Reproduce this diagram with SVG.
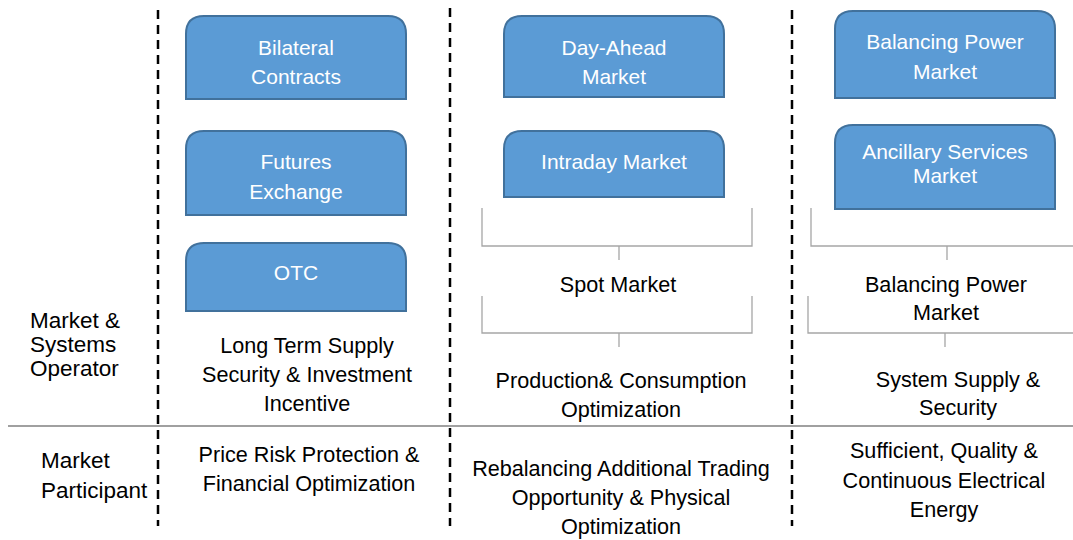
<svg xmlns="http://www.w3.org/2000/svg" width="1073" height="540" viewBox="0 0 1073 540">
<style>
.box{fill:#5B9BD5;stroke:#41719C;stroke-width:2}
.bt{fill:#fff;font-family:"Liberation Sans",Arial,sans-serif;font-size:21px;text-anchor:middle}
.t{fill:#000;font-family:"Liberation Sans",Arial,sans-serif;font-size:21.6px;text-anchor:middle}
.tl{fill:#000;font-family:"Liberation Sans",Arial,sans-serif;font-size:22.5px}
.dash{stroke:#000;stroke-width:2.5;stroke-dasharray:9 6;fill:none}
.br{stroke:#A6A6A6;stroke-width:1.3;fill:none}
</style>
<rect width="1073" height="540" fill="#fff"/>
<g id="connectors">
<line class="dash" x1="158" y1="10" x2="158" y2="526"/>
<line class="dash" x1="450" y1="8" x2="450" y2="526"/>
<line class="dash" x1="792" y1="10" x2="792" y2="526"/>
<line x1="8" y1="426" x2="1073" y2="426" stroke="#A0A0A0" stroke-width="2"/>
<path class="br" d="M482 208V246H752V208M619 246V260"/>
<path class="br" d="M482 296V333H752V296M619 333V347"/>
<path class="br" d="M811 208V246H1073M947 246V260"/>
<path class="br" d="M808 296V333H1073M945 333V347"/>
</g>
<g id="bilateral"><path class="box" d="M186 99V34Q186 16 204 16H388Q406 16 406 34V99Z"/><text class="bt" x="296" y="55">Bilateral</text><text class="bt" x="296" y="84">Contracts</text></g>
<g id="futures"><path class="box" d="M186 215V149Q186 131 204 131H388Q406 131 406 149V215Z"/><text class="bt" x="296" y="169">Futures</text><text class="bt" x="296" y="199">Exchange</text></g>
<g id="otc"><path class="box" d="M186 311V261Q186 243 204 243H388Q406 243 406 261V311Z"/><text class="bt" x="296" y="280">OTC</text></g>
<g id="dayahead"><path class="box" d="M504 97V34Q504 16 522 16H706Q724 16 724 34V97Z"/><text class="bt" x="614" y="55">Day-Ahead</text><text class="bt" x="614" y="84">Market</text></g>
<g id="intraday"><path class="box" d="M504 197V149Q504 131 522 131H706Q724 131 724 149V197Z"/><text class="bt" x="614" y="169">Intraday Market</text></g>
<g id="balancing"><path class="box" d="M835 98V29Q835 11 853 11H1037Q1055 11 1055 29V98Z"/><text class="bt" x="945" y="49">Balancing Power</text><text class="bt" x="945" y="79">Market</text></g>
<g id="ancillary"><path class="box" d="M835 209V143Q835 125 853 125H1037Q1055 125 1055 143V209Z"/><text class="bt" x="945" y="159">Ancillary Services</text><text class="bt" x="945" y="183">Market</text></g>
<g id="spot"><text class="t" x="618" y="292">Spot Market</text></g>
<g id="balancing2"><text class="t" x="946" y="292">Balancing Power</text><text class="t" x="946" y="320">Market</text></g>
<g id="labels">
<text class="tl" x="30" y="328">Market &amp;</text>
<text class="tl" x="30" y="352">Systems</text>
<text class="tl" x="30" y="376">Operator</text>
<text class="tl" x="41" y="468">Market</text>
<text class="tl" x="41" y="498">Participant</text>
<text class="t" x="307" y="353">Long Term Supply</text>
<text class="t" x="307" y="382">Security &amp; Investment</text>
<text class="t" x="307" y="411">Incentive</text>
<text class="t" x="309" y="462">Price Risk Protection &amp;</text>
<text class="t" x="309" y="491">Financial Optimization</text>
<text class="t" x="621" y="388">Production&amp; Consumption</text>
<text class="t" x="621" y="417">Optimization</text>
<text class="t" x="621" y="476">Rebalancing Additional Trading</text>
<text class="t" x="621" y="505">Opportunity &amp; Physical</text>
<text class="t" x="621" y="534">Optimization</text>
<text class="t" x="958" y="387">System Supply &amp;</text>
<text class="t" x="958" y="415">Security</text>
<text class="t" x="944" y="458">Sufficient, Quality &amp;</text>
<text class="t" x="944" y="488">Continuous Electrical</text>
<text class="t" x="944" y="517">Energy</text>
</g>
</svg>
